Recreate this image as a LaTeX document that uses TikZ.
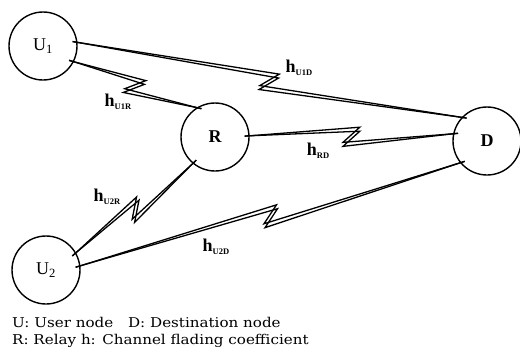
\documentclass[tikz,border=0pt]{standalone}
\usepackage{fontspec}
\setmainfont{Liberation Serif}
\newfontfamily\captfont[FakeStretch=1.12]{DejaVu Serif}
\usetikzlibrary{calc}
\tikzset{
  station/.style={circle, draw, line width=1.4pt, minimum size=68pt, inner sep=0pt, font=\fontsize{18}{18}\selectfont},
  chan/.style={line width=1.3pt, shorten <=-5pt, shorten >=-5pt, line join=miter, miter limit=6},
  lab/.style={inner sep=0pt, font=\fontsize{18}{18}\selectfont\bfseries},
  capt/.style={anchor=west, inner sep=0pt, font=\captfont\fontsize{13.5}{13.5}\selectfont}
}
\newcommand\sublab[1]{\raisebox{-3pt}{\fontsize{8.5}{8.5}\selectfont\bfseries #1}}
% #1 start anchor, #2 end anchor, #3 name prefix
\newcommand\chanlink[3]{%
  \coordinate (#3m) at ($(#1)!0.5!(#2)$);
  \coordinate (#3f) at ($(#3m)!8.5pt!(#2)$);
  \coordinate (#3b) at ($(#3m)!-8.5pt!(#2)$);
  \coordinate (#3p) at ($(#3f)!7.5pt!90:(#2)$);
  \coordinate (#3pi) at ($(#3f)!3.5pt!90:(#2)$);
  \coordinate (#3q) at ($(#3b)!7.5pt!-90:(#2)$);
  \coordinate (#3qo) at ($(#3b)!11.5pt!-90:(#2)$);
  \draw[chan] (#1) -- (#3p) -- (#3q) -- (#2);
  \draw[chan] (#1) -- (#3pi) -- (#3qo) -- (#2);
}
\begin{document}
\begin{tikzpicture}[x=1pt,y=-1pt]
\useasboundingbox (0,0) rectangle (520,360);
\node[station] (U1) at (43,46) {U\textsubscript{1}};
\node[station, font=\fontsize{18}{18}\selectfont\bfseries] (R) at (215,137) {R};
\node[station, font=\fontsize{18}{18}\selectfont\bfseries] (D) at (487,141) {D};
\node[station] (U2) at (46,270) {U\textsubscript{2}};

\chanlink{U1.6}{D.137}{ud}
\chanlink{U1.-27}{R.122}{ur}
\chanlink{R.2}{D.168}{rd}
\chanlink{U2.30}{R.230}{vr}
\chanlink{U2.7}{D.219}{vd}

\node[lab] (lU1D) at (299,68) {h\sublab{U1D}};
\node[lab] (lU1R) at (118,102) {h\sublab{U1R}};
\node[lab] (lRD) at (318,151) {h\sublab{RD}};
\node[lab] (lU2R) at (107,197) {h\sublab{U2R}};
\node[lab] (lU2D) at (216,247) {h\sublab{U2D}};

\node[capt] (c1) at (12,322) {U: User node\hspace{1.1em}D: Destination node};
\node[capt] (c2) at (12,341) {R: Relay h: Channel flading coefficient};
\end{tikzpicture}
\end{document}
